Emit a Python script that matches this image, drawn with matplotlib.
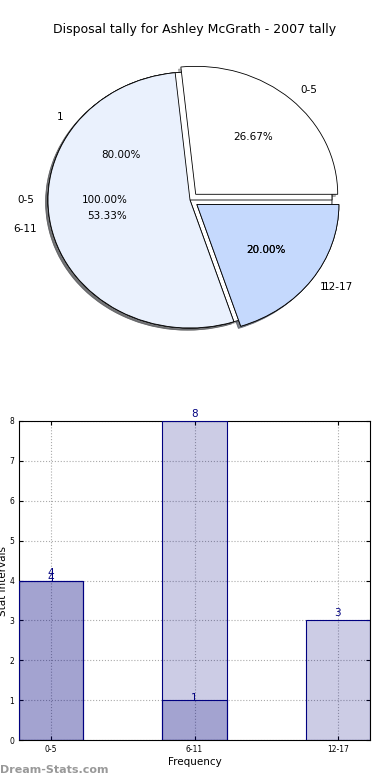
import numpy as np
import matplotlib
matplotlib.use("Agg")
import matplotlib.pyplot as plt

title = "Disposal tally for Ashley McGrath - 2007 tally"
categories = ["0-5", "6-11", "12-17"]

# pie layers (drawn bottom to top)
pie3_vals = [1]
pie3_labels = ["0-5"]
pie2_vals = [4, 1]
pie2_labels = ["1", "1"]
pie1_vals = [4, 8, 3]
pie1_labels = ["0-5", "6-11", "12-17"]

# bar series
light_vals = [4, 8, 3]
dark_vals = [4, 1]

pie_colors = ["#ffffff", "#eaf1fd", "#c5d9fd"]

fig = plt.figure(figsize=(3.9, 7.8), dpi=100)
fig.text(0.5, 1 - 30 / 780, title, ha="center", va="center", fontsize=9)

ax = fig.add_axes([12.5 / 390, 1 - 360 / 780, 355 / 390, 320 / 780])
layers = [(pie3_vals, pie3_labels, [0]),
          (pie2_vals, pie2_labels, [0, 0.06]),
          (pie1_vals, pie1_labels, [0.06, 0, 0.06])]
for i, (vals, labs, exp) in enumerate(layers):
    wedges, texts, autotexts = ax.pie(vals, labels=labs, explode=exp, colors=pie_colors,
                                      autopct="%.2f%%", startangle=0,
                                      shadow={"ox": -0.012, "oy": -0.012, "shade": 0.6},
                                      wedgeprops=dict(edgecolor="black", linewidth=0.6),
                                      textprops=dict(fontsize=7.5))
    if i == 1:
        # second layer's label sits a touch left of "12-17" in the original
        tx, ty = texts[1].get_position()
        texts[1].set_position((tx - 0.025, ty))
ax.set_aspect("auto")
ax.set_xlim(-1.25, 1.25)
ax.set_ylim(-1.25, 1.25)
ax.axis("off")

# bar chart
bx = fig.add_axes([19 / 390, 40 / 780, 351 / 390, 319 / 780])
x = np.arange(len(categories))
bx.bar(x, light_vals, width=0.45, color="navy", alpha=0.2, zorder=2)
bx.bar(x, light_vals, width=0.45, facecolor="none", edgecolor="navy", linewidth=0.8, zorder=3)
bx.bar(x[:len(dark_vals)], dark_vals, width=0.45, color="navy", alpha=0.2, zorder=2)
bx.bar(x[:len(dark_vals)], dark_vals, width=0.45, facecolor="none", edgecolor="navy",
       linewidth=0.8, zorder=3)
for xi, v in zip(x, light_vals):
    bx.text(xi, v + 0.06, str(v), ha="center", va="bottom", color="navy", fontsize=7.5)
for xi, v in zip(x, dark_vals):
    bx.text(xi, v - 0.06, str(v), ha="center", va="bottom", color="navy", fontsize=7.5)

bx.set_xlim(-0.225, 2.225)
bx.set_ylim(0, 8)
bx.set_xticks(x)
bx.set_xticklabels(categories)
bx.set_yticks(range(9))
bx.tick_params(direction="in", top=True, right=True, labelsize=5.5, length=3)
bx.grid(True, linestyle=":", color="#aaaaaa", linewidth=0.8, zorder=0)
bx.set_axisbelow(True)
bx.set_xlabel("Frequency", fontsize=7.5, labelpad=2)
bx.set_ylabel("Stat Intervals", fontsize=7.5, labelpad=1)

fig.text(0.0, 1 - 770 / 780, "Dream-Stats.com", ha="left", va="center",
         fontsize=8, color="#999999", fontweight="bold")

fig.savefig("out.png", dpi=100)
